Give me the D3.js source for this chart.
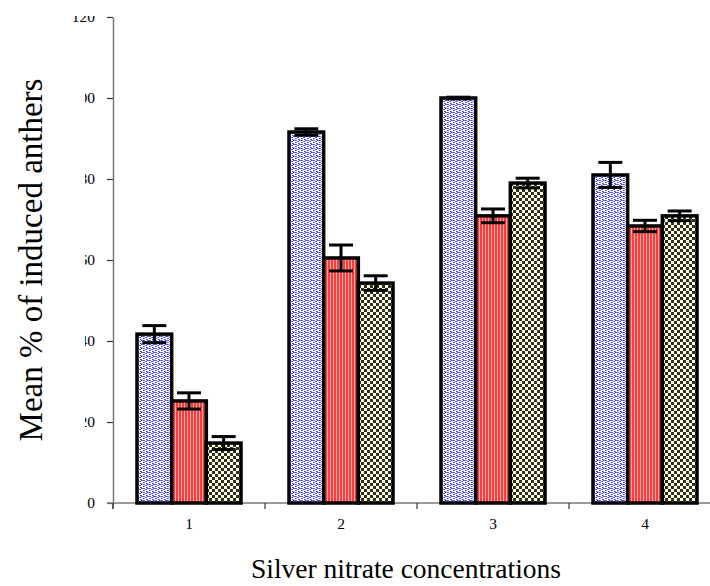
<!DOCTYPE html>
<html>
<head>
<meta charset="utf-8">
<script src="https://cdn.jsdelivr.net/npm/d3@7"></script>
<style>
  html, body { margin: 0; padding: 0; background: #fff; }
  svg { display: block; }
</style>
</head>
<body>
<div id="chart"></div>
<script>
// Silver nitrate concentration levels
const categories = ["1", "2", "3", "4"];
// Three treatment series (mean % of induced anthers)
const seriesNames = ["A", "B", "C"];
const seriesA = [41.7, 91.6, 100, 81];
const seriesB = [25.2, 60.5, 70.9, 68.4];
const seriesC = [14.8, 54.3, 79, 70.9];
// Standard errors for each series
const errA = [2.1, 0.8, 0.2, 3.1];
const errB = [2.0, 3.2, 1.7, 1.4];
const errC = [1.6, 1.8, 1.2, 1.2];
const yTicks = [0, 20, 40, 60, 80, 100, 120];

const W = 710, H = 586;
const svg = d3.select("#chart").append("svg")
  .attr("width", W).attr("height", H)
  .style("font-family", "'Liberation Serif', 'Times New Roman', serif");

const defs = svg.append("defs");

// Blue zigzag fill
const pA = defs.append("pattern").attr("id", "patA")
  .attr("patternUnits", "userSpaceOnUse").attr("width", 6).attr("height", 4);
pA.append("rect").attr("width", 6).attr("height", 4).attr("fill", "#ffffff");
[[0,0],[1,0],[2,1],[3,1],[4,0],[5,0],[0,2],[3,3],[4,3],[1,2]].forEach(([px, py]) => {
  pA.append("rect").attr("x", px).attr("y", py).attr("width", 1).attr("height", 1)
    .attr("fill", (px + py) % 2 ? "#7070ff" : "#3c3cff");
});

// Red vertical stripes
const pB = defs.append("pattern").attr("id", "patB")
  .attr("patternUnits", "userSpaceOnUse").attr("width", 3).attr("height", 3);
pB.append("rect").attr("width", 3).attr("height", 3).attr("fill", "#ffb3b3");
pB.append("rect").attr("width", 2).attr("height", 3).attr("fill", "#ff3a3a");

// Dark olive checkerboard
const pC = defs.append("pattern").attr("id", "patC")
  .attr("patternUnits", "userSpaceOnUse").attr("width", 6).attr("height", 6);
pC.append("rect").attr("width", 6).attr("height", 6).attr("fill", "#ffffff");
pC.append("rect").attr("x", 0).attr("y", 0).attr("width", 3).attr("height", 3).attr("fill", "#33330a");
pC.append("rect").attr("x", 3).attr("y", 3).attr("width", 3).attr("height", 3).attr("fill", "#33330a");

const fills = ["url(#patA)", "url(#patB)", "url(#patC)"];
const values = [seriesA, seriesB, seriesC];
const errors = [errA, errB, errC];

const x0 = 113, y0 = 503;
const bandW = 152;
const x = d3.scaleBand().domain(categories)
  .range([x0, x0 + bandW * categories.length]).padding(0);
const xs = d3.scaleBand().domain(seriesNames)
  .range([(bandW - 104) / 2, (bandW + 104) / 2]).padding(0);
const y = d3.scaleLinear().domain([0, 120]).range([y0, 17]);

const axisColor = "#7a7a7a";

// Label clipping region: the title area hides the leading digits
const clip = defs.append("clipPath").attr("id", "labClip");
clip.append("rect").attr("x", 55).attr("y", 16).attr("width", 70).attr("height", 10);
clip.append("rect").attr("x", 85).attr("y", 26).attr("width", 40).attr("height", 510);

// Y axis
const yAxis = svg.append("g").attr("transform", `translate(${x0},0)`)
  .call(d3.axisLeft(y).tickValues(yTicks).tickSize(6).tickSizeOuter(0).tickPadding(12));
yAxis.select(".domain").attr("stroke", axisColor).attr("stroke-width", 1.5);
yAxis.selectAll(".tick line").attr("stroke", "#333").attr("stroke-width", 1.2);

const labelGroup = svg.append("g").attr("clip-path", "url(#labClip)");
yAxis.selectAll(".tick").each(function(d) {
  const t = d3.select(this).select("text");
  labelGroup.append("text")
    .attr("x", x0 - 18).attr("y", y(d)).attr("dy", "0.34em")
    .attr("text-anchor", "end").attr("font-size", 15.5).text(t.text());
  t.remove();
});
// extend the y axis a little below the baseline
svg.append("line").attr("x1", x0).attr("x2", x0).attr("y1", y0).attr("y2", y0 + 6)
  .attr("stroke", axisColor).attr("stroke-width", 1.5);

// X axis line and boundary ticks
svg.append("line").attr("x1", x0 - 6).attr("x2", W).attr("y1", y0).attr("y2", y0)
  .attr("stroke", axisColor).attr("stroke-width", 1.5);
svg.selectAll(".xtick").data(categories).enter().append("line")
  .attr("x1", d => x(d)).attr("x2", d => x(d))
  .attr("y1", y0).attr("y2", y0 + 6)
  .attr("stroke", "#333").attr("stroke-width", 1.2);
svg.selectAll(".xlab").data(categories).enter().append("text")
  .attr("x", d => x(d) + x.bandwidth() / 2).attr("y", y0 + 26)
  .attr("text-anchor", "middle").attr("font-size", 15.5).text(d => d);

// Bars
const groups = svg.selectAll(".grp").data(categories).enter().append("g")
  .attr("transform", d => `translate(${x(d)},0)`);

seriesNames.forEach((s, si) => {
  groups.append("rect")
    .attr("x", xs(s)).attr("width", xs.bandwidth())
    .attr("y", (d, i) => y(values[si][i]))
    .attr("height", (d, i) => y0 - y(values[si][i]))
    .attr("fill", fills[si]).attr("stroke", "#000").attr("stroke-width", 3.5);
});

// Error bars
const capHalf = 12;
seriesNames.forEach((s, si) => {
  const cx = xs(s) + xs.bandwidth() / 2;
  groups.each(function(d, i) {
    const g = d3.select(this);
    const v = values[si][i], e = errors[si][i];
    const top = y(v + e), bot = y(v - e);
    g.append("line").attr("x1", cx).attr("x2", cx).attr("y1", top).attr("y2", bot)
      .attr("stroke", "#000").attr("stroke-width", 3);
    [top, bot].forEach(yy => g.append("line")
      .attr("x1", cx - capHalf).attr("x2", cx + capHalf).attr("y1", yy).attr("y2", yy)
      .attr("stroke", "#000").attr("stroke-width", 3));
  });
});

// Axis titles
svg.append("text").attr("x", 406).attr("y", 578)
  .attr("text-anchor", "middle").attr("font-size", 27.5)
  .text("Silver nitrate concentrations");
svg.append("text")
  .attr("transform", "translate(42,260) rotate(-90)")
  .attr("text-anchor", "middle").attr("font-size", 33)
  .text("Mean % of induced anthers");
</script>
</body>
</html>
